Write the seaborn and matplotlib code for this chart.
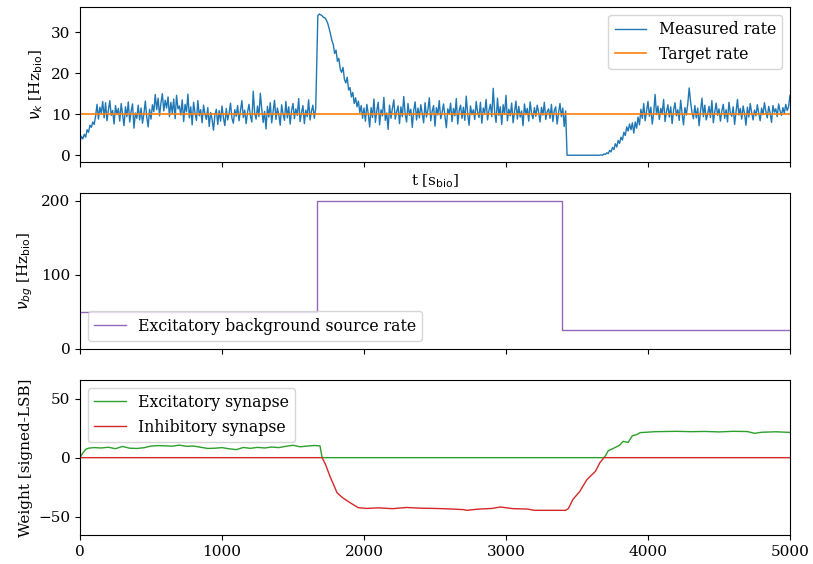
import numpy as np
import matplotlib
matplotlib.use("Agg")
import matplotlib.pyplot as plt
import seaborn as sns

# ---------------- data ----------------
# measured firing rate, given in segments (t_start, t_end) + values
rate_seg1_t = (0, 1660)
rate_seg1 = [3.2, 4.6, 4.0, 5.1, 4.4, 6.2, 5.6, 7.3, 6.8, 8.1, 7.5,
             9.6, 12.4, 8.8, 11.7, 10.2, 13.1, 9.1, 12.8, 8.4, 11.0, 13.3, 9.7, 10.9, 7.6, 12.1, 9.9, 11.4, 8.3, 12.6, 10.0,
             7.2, 11.8, 9.4, 13.0, 8.1, 10.7, 12.5, 6.6, 10.3, 9.0, 12.2, 8.6, 11.5, 7.8, 10.1, 13.2, 9.3, 6.9, 11.2, 8.8,
             12.3, 10.6, 14.8, 11.1, 13.9, 9.6, 12.7, 15.0, 10.8, 13.4, 11.5, 14.2, 9.4, 12.9, 10.2, 13.7, 8.9, 14.6, 11.3, 12.0,
             9.8, 13.5, 8.2, 12.4, 10.6, 14.9, 9.1, 11.8, 7.4, 12.9, 10.3, 8.5, 13.3, 9.6, 11.1, 7.9, 12.2, 10.0, 8.7, 11.6,
             7.0, 10.4, 8.8, 6.1, 9.7, 11.2, 7.5, 10.9, 8.3, 12.0, 9.1, 7.2, 11.4, 8.6, 10.2, 12.7, 9.0, 7.8, 11.1, 9.5,
             12.1, 8.4, 10.8, 13.3, 9.2, 11.0, 7.7, 10.5, 12.4, 9.6, 8.1, 15.6, 10.3, 8.8, 12.0, 9.4, 15.1, 11.2, 8.0, 10.7,
             6.4, 11.9, 9.3, 12.8, 7.9, 10.6, 13.4, 8.7, 11.5, 9.9, 7.3, 12.3, 10.0, 8.5, 13.1, 9.1, 11.8, 7.6, 10.9, 12.6,
             8.9, 11.3, 9.7, 13.8, 8.2, 10.4, 12.1, 7.7, 11.0, 9.4, 13.5, 8.6, 10.7, 12.2, 9.0, 11.4]
rate_seg2_t = (1675, 2000)
rate_seg2 = [34.0, 34.4, 34.2, 34.0, 33.6, 33.5, 33.0, 32.2, 31.0, 29.6,
             28.0, 27.0, 24.8, 25.6, 22.9, 23.6, 21.0, 20.2, 21.4, 18.5,
             17.6, 19.0, 15.9, 16.5, 14.2, 15.3, 12.6, 14.0, 11.8, 13.2,
             10.4, 12.1, 9.0, 11.5]
rate_seg3_t = (2010, 3420)
rate_seg3 = [8.3, 12.4, 10.1, 6.9, 11.6, 9.2, 13.7, 8.0, 10.8, 12.9, 7.4, 11.1, 9.6, 14.1, 8.5, 10.3, 6.3, 12.2, 9.0, 11.4,
             13.5, 8.8, 10.6, 12.0, 7.7, 11.8, 9.4, 14.3, 10.0, 8.1, 12.6, 9.7, 11.2, 6.8, 10.9, 13.0, 8.6, 11.5, 9.1, 12.3,
             10.2, 7.9, 12.8, 9.3, 11.0, 14.0, 8.4, 10.7, 12.1, 7.1, 11.6, 9.8, 13.3, 8.9, 10.4, 12.5, 9.5, 6.7, 11.3, 10.0,
             12.7, 8.2, 11.4, 9.6, 13.8, 7.6, 10.8, 12.2, 9.0, 11.7, 8.5, 14.4, 10.1, 7.3, 12.0, 9.9, 11.1, 8.7, 13.1, 10.5,
             9.2, 12.9, 7.8, 11.5, 10.3, 13.6, 8.6, 10.9, 12.4, 9.4, 16.3, 10.6, 8.0, 13.9, 9.7, 11.8, 7.5, 12.3, 10.0, 14.6,
             8.4, 11.2, 9.6, 12.7, 7.9, 10.5, 13.2, 8.8, 11.9, 9.3, 10.8, 7.2, 12.5, 9.9, 11.4, 8.3, 13.0, 10.2, 8.9, 11.6,
             9.5, 12.2, 10.4, 8.1, 11.7, 9.8, 12.9, 8.7, 10.6, 11.3, 9.0, 12.4, 8.2, 10.9, 11.8, 7.6, 10.3, 12.6, 9.4, 11.5,
             7.0, 10.8]
rate_seg4_t = (3430, 3940)
rate_seg4 = [0.0] * 24 + [
             0.1, 0.0, 0.3, 0.2, 0.6, 0.4, 1.2, 0.8, 1.9, 1.4, 2.8, 2.0, 3.6, 2.9,
             4.4, 3.7, 5.6, 4.8, 6.9, 5.9, 7.6, 6.2, 7.9, 5.4, 8.1, 6.6, 9.3, 7.4]
rate_seg5_t = (3950, 5000)
rate_seg5 = [11.2, 9.0, 12.6, 8.4, 10.8, 13.1, 9.5, 11.7, 7.6, 10.3, 14.8, 9.9, 12.0, 8.7, 11.4, 10.1, 13.6, 8.2, 10.6, 12.3,
             9.3, 11.8, 7.7, 10.9, 12.8, 9.6, 11.1, 8.5, 13.4, 10.2, 7.4, 11.6, 9.8, 12.5, 16.4, 13.0, 10.4, 8.9, 12.1, 9.1,
             11.5, 7.2, 10.7, 13.9, 9.4, 12.2, 8.6, 10.0, 11.9, 9.2, 13.3, 7.9, 10.5, 12.7, 9.7, 11.3, 8.3, 10.8, 12.4, 9.0,
             11.1, 8.1, 12.9, 10.3, 9.5, 11.8, 7.5, 10.6, 13.6, 9.8, 11.4, 8.8, 12.0, 10.1, 7.3, 11.7, 9.3, 12.6, 10.4, 8.6,
             11.0, 9.6, 12.3, 10.2, 8.4, 11.5, 9.9, 12.8, 10.7, 9.1, 11.9, 10.3, 8.0, 12.1, 10.5, 11.3, 9.4, 12.5, 10.8, 9.7,
             11.6, 10.2, 12.4, 10.9, 11.8, 14.6]

target_t = [0, 5000]
target_rate = [10, 10]

# background source rate (step function)
bg_t = [0, 1669, 3394, 5000]
bg_rate = [50, 200, 25, 25]

# synaptic weights
exc_t = [0, 20, 40, 60, 80, 100, 150, 200, 250, 300, 350, 400, 450, 500, 550,
         600, 650, 700, 750, 800, 850, 900, 950, 1000, 1050, 1100, 1150,
         1200, 1250, 1300, 1350, 1400, 1450, 1500, 1550, 1600, 1650, 1690,
         1705, 3690, 3700, 3720, 3750, 3780, 3800, 3825, 3860, 3890, 3920,
         3945, 4000, 4050, 4100, 4200, 4300, 4400, 4500, 4600, 4700, 4750,
         4800, 4900, 5000]
exc_w = [0, 4, 7, 8, 8.3, 8.5, 8.2, 8.8, 7.6, 9.5, 8.0, 7.8, 8.4, 9.8, 10.2,
         10.0, 9.7, 10.6, 9.6, 9.8, 8.8, 7.8, 8.0, 8.5, 7.5, 6.8, 8.6,
         7.9, 8.7, 8.2, 9.0, 8.5, 9.6, 10.5, 9.2, 9.8, 10.3, 10.0,
         0, 0, 1.5, 5.9, 7.5, 9.3, 10.5, 13.8, 12.9, 18.6, 19.5,
         21.2, 21.6, 22.0, 22.1, 22.3, 22.0, 22.2, 21.8, 22.3, 22.1, 20.6,
         21.5, 21.9, 21.4]

inh_t = [0, 1705, 1730, 1760, 1790, 1810, 1850, 1900, 1960, 2020, 2100,
         2200, 2300, 2400, 2500, 2600, 2700, 2725, 2800, 2900, 2960, 3050,
         3150, 3200, 3300, 3420, 3440, 3470, 3520, 3570, 3600, 3630, 3660,
         3690, 5000]
inh_w = [0, 0, -6, -15.8, -24, -29.7, -34, -38, -42.4, -43, -42.5,
         -43.2, -42.2, -42.8, -43.0, -43.4, -44.0, -44.6, -43.6, -43.0, -41.8, -43.2,
         -43.5, -44.6, -44.6, -44.6, -43, -35.6, -28.5, -18.6, -15, -11.6, -4.5,
         0, 0]


def seg_time(span, vals):
    return np.linspace(span[0], span[1], len(vals))


rate_t = np.concatenate([seg_time(rate_seg1_t, rate_seg1),
                         seg_time(rate_seg2_t, rate_seg2),
                         seg_time(rate_seg3_t, rate_seg3),
                         seg_time(rate_seg4_t, rate_seg4),
                         seg_time(rate_seg5_t, rate_seg5)])
rate_v = np.concatenate([rate_seg1, rate_seg2, rate_seg3, rate_seg4, rate_seg5])

# ---------------- style ----------------
plt.rcParams['font.family'] = ['DejaVu Serif']
plt.rcParams['font.size'] = 11
plt.rcParams['legend.fontsize'] = 11.3

colors = sns.color_palette("tab10")

fig, axes = plt.subplots(3, 1, figsize=(8.13, 5.64), dpi=100)
fig.subplots_adjust(left=0.0984, right=0.9717, top=0.9876, bottom=0.0514,
                    hspace=0.2)
ax1, ax2, ax3 = axes

sns.lineplot(x=rate_t, y=rate_v, ax=ax1, color=colors[0], lw=1,
             label="Measured rate", sort=False)
sns.lineplot(x=target_t, y=target_rate, ax=ax1, color=colors[1], lw=1.2,
             label="Target rate")
ax1.set_yticks([0, 10, 20, 30])
ax1.legend(loc="upper right")

sns.lineplot(x=bg_t, y=bg_rate, ax=ax2, color=colors[4], lw=1,
             drawstyle="steps-post", label="Excitatory background source rate")
ax2.set_ylim(0, 210)
ax2.set_yticks([0, 100, 200])
ax2.legend(loc="lower left")

sns.lineplot(x=exc_t, y=exc_w, ax=ax3, color=colors[2], lw=1,
             label="Excitatory synapse")
sns.lineplot(x=inh_t, y=inh_w, ax=ax3, color=colors[3], lw=1,
             label="Inhibitory synapse")
ax3.set_ylim(-65.5, 66)
ax3.set_yticks([-50, 0, 50])
ax3.legend(loc="upper left")

for ax in axes:
    ax.set_xlim(0, 5000)
    ax.set_xticks([0, 1000, 2000, 3000, 4000, 5000])
ax1.tick_params(axis="x", labelbottom=False)
ax2.tick_params(axis="x", labelbottom=False)

ax1.set_xlabel(r"t [s$_\mathrm{bio}$]")
ax2.set_xlabel("")
ax3.set_xlabel("")
ax1.set_ylabel(r"$\nu_k$ [Hz$_\mathrm{bio}$]")
ax2.set_ylabel(r"$\nu_{bg}$ [Hz$_\mathrm{bio}$]")
ax3.set_ylabel("Weight [signed-LSB]")

fig.savefig("out.png", dpi=100)
